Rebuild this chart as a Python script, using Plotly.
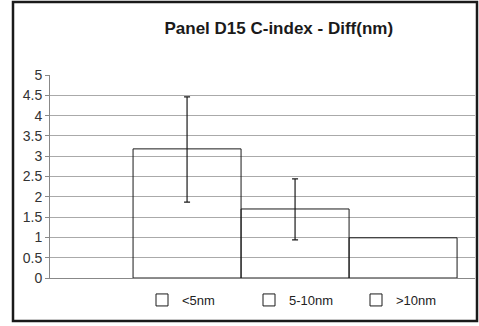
import plotly.graph_objects as go

categories = ["<5nm", "5-10nm", ">10nm"]
values = [3.18, 1.70, 0.99]
err_plus = [1.28, 0.74, 0.0]
err_minus = [1.31, 0.76, 0.0]
y_ticks = [0, 0.5, 1, 1.5, 2, 2.5, 3, 3.5, 4, 4.5, 5]
y_tick_labels = ["0", "0.5", "1", "1.5", "2", "2.5", "3", "3.5", "4", "4.5", "5"]
title_text = "Panel D15 C-index - Diff(nm)"

W, H = 479, 326
L, R, T, B = 50, 4, 75, 48
pw, ph = W - L - R, H - T - B

fig = go.Figure()
for i, (cat, v, ep, em) in enumerate(zip(categories, values, err_plus, err_minus)):
    fig.add_trace(go.Bar(
        x=[i], y=[v], width=1, name=cat,
        marker=dict(color="rgba(255,255,255,0)", line=dict(color="#1a1a1a", width=1)),
        error_y=dict(type="data", symmetric=False, array=[ep], arrayminus=[em],
                     visible=ep > 0, color="#1a1a1a", thickness=1.2, width=3),
        showlegend=True,
    ))

fig.update_layout(
    width=W, height=H,
    margin=dict(l=L, r=R, t=T, b=B, pad=0, autoexpand=False),
    paper_bgcolor="white", plot_bgcolor="white",
    barmode="overlay",
    font=dict(family="Liberation Sans, Arial, sans-serif", size=13, color="#222"),
    title=dict(text="<b>" + title_text + "</b>", x=0.582, xref="container", xanchor="center",
               y=1 - 28 / H, yref="container", yanchor="middle",
               font=dict(size=17, color="#1a1a1a")),
    xaxis=dict(range=[-1.269, 2.666], showticklabels=False, showgrid=False, zeroline=False,
               showline=True, linecolor="#888", linewidth=1, ticks=""),
    yaxis=dict(range=[0, 5], tickvals=y_ticks, ticktext=y_tick_labels, showgrid=True,
               gridcolor="#aaa", gridwidth=1, zeroline=False, showline=True,
               linecolor="#888", linewidth=1, ticks="outside", ticklen=4, tickcolor="#888",
               tickfont=dict(size=14, color="#333")),
    legend=dict(orientation="h", x=(142 - L) / pw, xanchor="left", y=(T + ph - 300) / ph,
                yanchor="middle", entrywidth=62, entrywidthmode="pixels",
                itemwidth=30, font=dict(size=13, color="#222"), bgcolor="rgba(0,0,0,0)"),
    shapes=[dict(type="rect", xref="paper", yref="paper",
                 x0=(13 - L) / pw, x1=(477 - L) / pw,
                 y0=(T + ph - 321) / ph, y1=(T + ph - 2) / ph,
                 line=dict(color="#1a1a1a", width=2.5), layer="below")],
)

fig.write_html("out.html")
